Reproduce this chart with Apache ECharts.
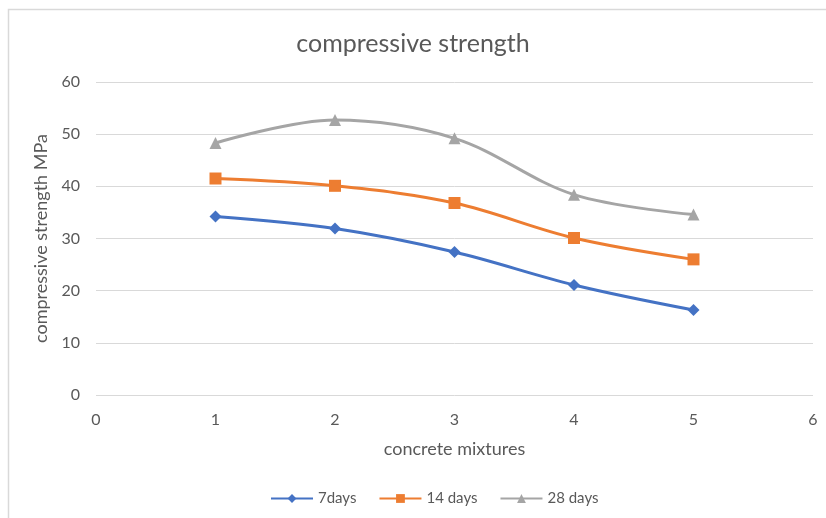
<!DOCTYPE html>
<html>
<head>
<meta charset="utf-8">
<script src="https://cdn.jsdelivr.net/npm/echarts@6/dist/echarts.min.js"></script>
<style>
  html, body { margin: 0; padding: 0; background: #fff; }
  #chart { width: 826px; height: 518px; }
</style>
</head>
<body>
<div id="chart"></div>
<script>
// Compressive strength of concrete mixtures at three curing ages
const mixtures = [1, 2, 3, 4, 5];
const days7 = [34.2, 31.9, 27.4, 21.1, 16.3];
const days14 = [41.5, 40.1, 36.8, 30.1, 26.0];
const days28 = [48.3, 52.7, 49.2, 38.4, 34.6];
const seriesNames = ['7days', '14 days', '28 days'];

const pairs = vals => mixtures.map((m, i) => [m, vals[i]]);
const font = 'Lato, "Open Sans", sans-serif';
const textGray = '#595959';

const chart = echarts.init(document.getElementById('chart'), null, { renderer: 'canvas' });

const lineSeries = (name, vals, color, symbol, size) => ({
  name: name,
  type: 'line',
  data: pairs(vals),
  smooth: 0.35,
  symbol: symbol,
  symbolSize: size,
  lineStyle: { color: color, width: 3 },
  itemStyle: { color: color },
  emphasis: { disabled: true }
});

chart.setOption({
  animation: false,
  backgroundColor: '#fff',
  graphic: [{
    type: 'rect',
    shape: { x: 8.5, y: 9.5, width: 830, height: 520 },
    style: { fill: 'none', stroke: '#d9d9d9', lineWidth: 1.5 },
    silent: true
  }],
  title: {
    text: 'compressive strength',
    left: 'center',
    top: 26,
    textStyle: { fontFamily: font, fontSize: 25, fontWeight: 'normal', color: textGray }
  },
  grid: { left: 96, right: 13, top: 82, bottom: 123 },
  legend: {
    bottom: 7,
    left: 265,
    itemWidth: 42,
    itemHeight: 11,
    itemGap: 22,
    textStyle: { fontFamily: font, fontSize: 15, color: textGray },
    data: seriesNames
  },
  xAxis: {
    type: 'value',
    min: 0, max: 6, interval: 1,
    name: 'concrete mixtures',
    nameLocation: 'middle',
    nameGap: 45,
    nameTextStyle: { fontFamily: font, fontSize: 18, color: textGray },
    axisLine: { show: false },
    axisTick: { show: false },
    splitLine: { show: false },
    axisLabel: { fontFamily: font, fontSize: 16, color: textGray, margin: 17 }
  },
  yAxis: {
    type: 'value',
    min: 0, max: 60, interval: 10,
    name: 'compressive strength MPa',
    nameLocation: 'middle',
    nameGap: 37,
    nameTextStyle: { fontFamily: font, fontSize: 18, color: textGray },
    axisLine: { show: false },
    axisTick: { show: false },
    splitLine: { lineStyle: { color: '#d9d9d9', width: 1 } },
    axisLabel: { fontFamily: font, fontSize: 16, color: textGray, margin: 16 }
  },
  series: [
    lineSeries('7days', days7, '#4472c4', 'diamond', 12),
    lineSeries('14 days', days14, '#ed7d31', 'rect', 12),
    lineSeries('28 days', days28, '#a5a5a5', 'triangle', 12)
  ]
});
</script>
</body>
</html>
